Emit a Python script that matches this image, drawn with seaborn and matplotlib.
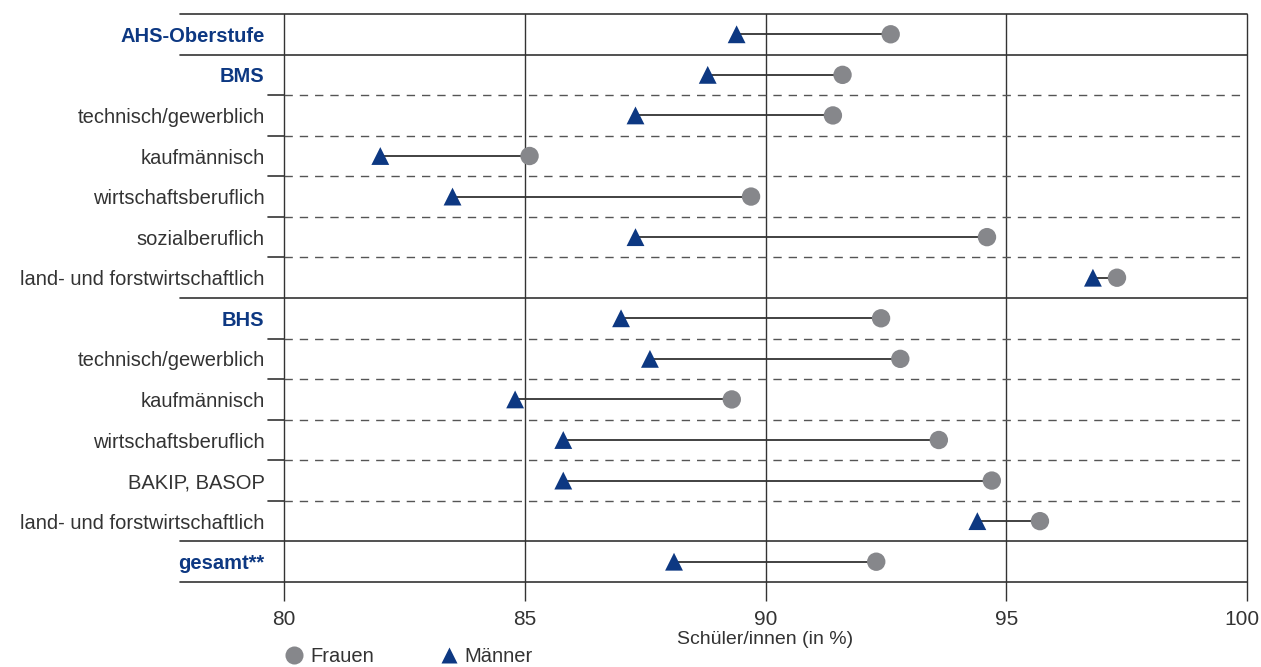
import matplotlib
matplotlib.use("Agg")
import matplotlib.pyplot as plt
import matplotlib.transforms as mtransforms
import seaborn as sns
import pandas as pd
from matplotlib.lines import Line2D

# row labels (top to bottom)
categories = ["AHS-Oberstufe", "BMS", "technisch/gewerblich", "kaufmännisch",
              "wirtschaftsberuflich", "sozialberuflich", "land- und forstwirtschaftlich",
              "BHS", "technisch/gewerblich", "kaufmännisch", "wirtschaftsberuflich",
              "BAKIP, BASOP", "land- und forstwirtschaftlich", "gesamt**"]
headings = ["AHS-Oberstufe", "BMS", "BHS", "gesamt**"]

# shares in %
frauen = [92.6, 91.6, 91.4, 85.1, 89.7, 94.6, 97.3, 92.4, 92.8, 89.3, 93.6, 94.7, 95.7, 92.3]
maenner = [89.4, 88.8, 87.3, 82.0, 83.5, 87.3, 96.8, 87.0, 87.6, 84.8, 85.8, 85.8, 94.4, 88.1]

xticks = [80, 85, 90, 95, 100]

gray = "#86878b"
blue = "#0d3882"
dark = "#333333"

sns.set_theme(style="white")
plt.rcParams['font.family'] = ['Liberation Sans', 'DejaVu Sans']

df = pd.DataFrame({"row": range(len(categories)), "Frauen": frauen, "Männer": maenner})

fig = plt.figure(figsize=(12.61, 6.67), dpi=100)
ax = fig.add_axes([284 / 1261, 1 - 582 / 667, (1247 - 284) / 1261, 568 / 667])

# connecting lines
ax.hlines(df["row"], df["Männer"], df["Frauen"], color=dark, lw=1.3, zorder=2)
sns.scatterplot(data=df, x="Frauen", y="row", marker="o", s=175, color=gray,
                edgecolor="none", linewidth=0, ax=ax, zorder=3)
sns.scatterplot(data=df, x="Männer", y="row", marker="^", s=165, color=blue,
                edgecolor="none", linewidth=0, ax=ax, zorder=3)

ax.set_xlim(80, 100)
ax.set_ylim(len(categories) - 0.5, -0.5)
for s in ax.spines.values():
    s.set_visible(False)

# vertical grid + outward ticks
ax.set_xticks(xticks)
ax.set_xticklabels([str(t) for t in xticks])
ax.grid(axis="x", color=dark, lw=1)
ax.grid(axis="y", visible=False)
for gl in ax.get_xgridlines():
    gl.set_clip_on(False)
ax.tick_params(axis="x", direction="out", length=13.5, width=1, color=dark,
               labelsize=15, labelcolor=dark, pad=7, bottom=True)
# keep the last tick label inside the figure
last = ax.get_xticklabels()[-1]
last.set_transform(last.get_transform() +
                   mtransforms.ScaledTranslation(-5 / 100, 0, fig.dpi_scale_trans))

# row labels
ax.set_yticks(df["row"])
ax.set_yticklabels(categories)
ax.tick_params(axis="y", length=0, pad=14, labelsize=14.5, labelcolor=dark)
for lab in ax.get_yticklabels():
    if lab.get_text() in headings:
        lab.set_color(blue)
        lab.set_fontweight("bold")

# horizontal separators
solid = [-0.5, 0.5, 6.5, 12.5, 13.5]
dashed = [1.5, 2.5, 3.5, 4.5, 5.5, 7.5, 8.5, 9.5, 10.5, 11.5]
for b in solid:
    ax.axhline(b, xmin=-0.108, xmax=1, color=dark, lw=1.2, clip_on=False, zorder=1)
for b in dashed:
    ax.axhline(b, xmin=0, xmax=1, color="#555555", lw=1, ls=(0, (6, 5)), zorder=1)
    ax.axhline(b, xmin=-0.017, xmax=0, color=dark, lw=1.2, clip_on=False, zorder=1)

ax.set_xlabel("Schüler/innen (in %)", fontsize=14, color=dark, labelpad=1)
ax.set_ylabel("")

handles = [
    Line2D([], [], ls="none", marker="o", ms=13, color=gray, mec="none", label="Frauen"),
    Line2D([], [], ls="none", marker="^", ms=12, color=blue, mec="none", label="Männer"),
]
leg = fig.legend(handles=handles, loc="center", bbox_to_anchor=(0.324, 0.016), ncol=2,
                 frameon=False, fontsize=14.5, handletextpad=0.3, columnspacing=3.2,
                 handlelength=1)
for t in leg.get_texts():
    t.set_color(dark)

fig.savefig("out.png", dpi=100)
